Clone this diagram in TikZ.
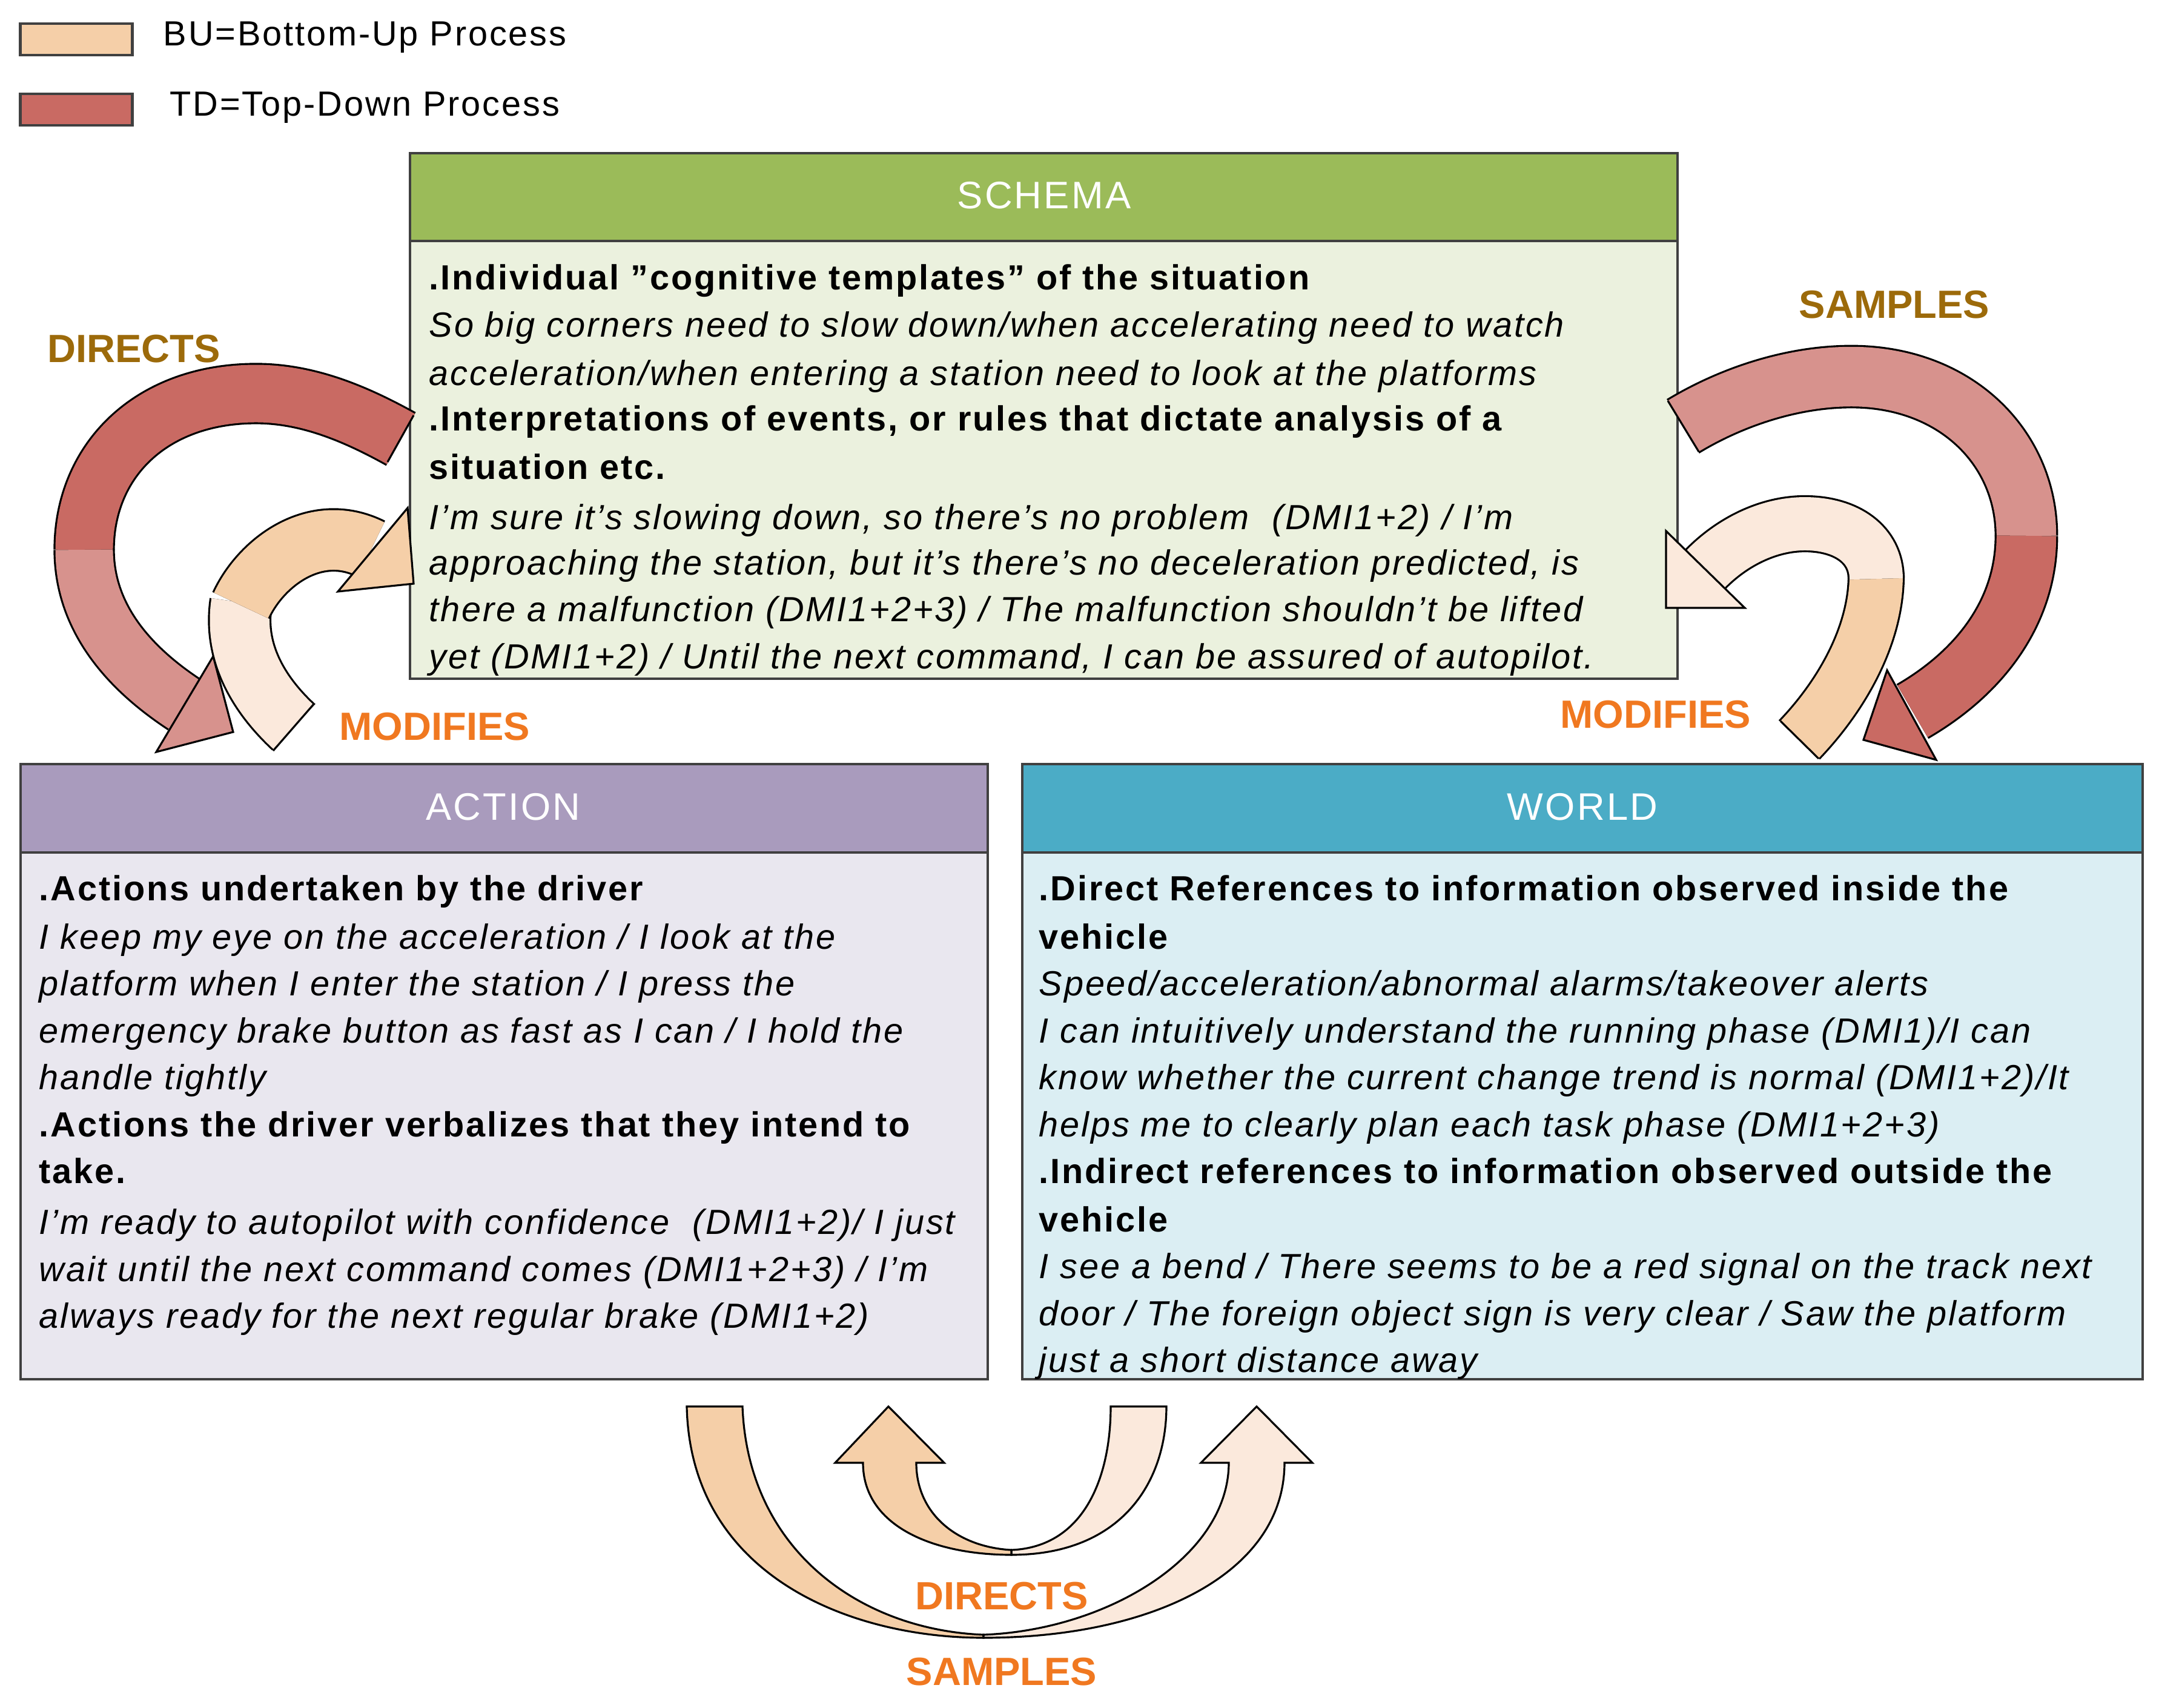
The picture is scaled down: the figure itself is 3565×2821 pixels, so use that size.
\documentclass[tikz,border=0pt]{standalone}
\usepackage{fontspec}
\setmainfont[LetterSpace=5]{Liberation Sans}
\newfontfamily\plainf{Liberation Sans}
\begin{document}
\definecolor{gHead}{HTML}{9BBB59}\definecolor{gBody}{HTML}{EBF1DE}
\definecolor{pHead}{HTML}{A99BBD}\definecolor{pBody}{HTML}{E9E7EF}
\definecolor{bHead}{HTML}{4BACC6}\definecolor{bBody}{HTML}{DBEEF3}
\definecolor{peach}{HTML}{F5CFA8}\definecolor{light}{HTML}{FBE9DC}
\definecolor{redA}{HTML}{C96A63}\definecolor{redB}{HTML}{D7928D}
\definecolor{gold}{HTML}{9C6A0A}\definecolor{orng}{HTML}{F07820}
\definecolor{brd}{HTML}{404040}
\begin{tikzpicture}[x=0.01cm,y=-0.01cm,
  box/.style={draw=brd,line width=1.4pt},
  hdr/.style={text=white,font=\fontsize{18}{22}\selectfont},
  tl/.style={anchor=base west,inner sep=0pt,font=\fontsize{16.4}{20}\selectfont},
  bl/.style={tl,font=\fontsize{16.4}{20}\selectfont\bfseries},
  il/.style={tl,font=\fontsize{16.4}{20}\selectfont\itshape},
  lab/.style={font=\fontsize{18.5}{22}\plainf\bfseries},
  shaft/.style={draw=black,line width=0.9pt,double=#1},
  head/.style={draw=black,line width=0.9pt,fill=#1,line join=miter},
  blk/.style={draw=black,line width=0.9pt,fill=#1}]
\useasboundingbox (0,0) rectangle (3565,2821);
% legend
\node[box,draw=brd,fill=peach,minimum width=185*0.01cm,minimum height=52*0.01cm,inner sep=0pt] (lg1) at (126,65) {};
\node[box,draw=brd,fill=redA,minimum width=185*0.01cm,minimum height=52*0.01cm,inner sep=0pt] (lg2) at (126,181) {};
\node[tl,anchor=west] (lt1) at (269,62) {BU=Bottom-Up Process};
\node[tl,anchor=west] (lt2) at (280,178) {TD=Top-Down Process};
% schema
\fill[gBody] (677,398) rectangle (2770,1121);
\fill[gHead] (677,253) rectangle (2770,398);
\draw[box] (677,253) rectangle (2770,1121);
\draw[box] (677,398) -- (2770,398);
\node[hdr] (sh) at (1724,323) {SCHEMA};
\node[bl] (s1) at (708,478) {.Individual \symbol{34}cognitive templates\symbol{34} of the situation};
\node[il] (s2) at (708,556) {So big corners need to slow down/when accelerating need to watch};
\node[il] (s3) at (708,636) {acceleration/when entering a station need to look at the platforms};
\node[bl] (s4) at (708,711) {.Interpretations of events, or rules that dictate analysis of a};
\node[bl] (s5) at (708,791) {situation etc.};
\node[il] (s6) at (708,874) {I\symbol{39}m sure it\symbol{39}s slowing down, so there\symbol{39}s no problem \ (DMI1+2) / I\symbol{39}m};
\node[il] (s7) at (708,949) {approaching the station, but it\symbol{39}s there\symbol{39}s no deceleration predicted, is};
\node[il] (s8) at (708,1026) {there a malfunction (DMI1+2+3) / The malfunction shouldn\symbol{39}t be lifted};
\node[il] (s9) at (708,1104) {yet (DMI1+2) / Until the next command, I can be assured of autopilot.};
% action
\fill[pBody] (34,1408) rectangle (1631,2278);
\fill[pHead] (34,1262) rectangle (1631,1408);
\draw[box] (34,1262) rectangle (1631,2278);
\draw[box] (34,1408) -- (1631,1408);
\node[hdr] (ah) at (831,1333) {ACTION};
\node[bl] (a1) at (64,1487) {.Actions undertaken by the driver};
\node[il] (a2) at (64,1567) {I keep my eye on the acceleration / I look at the};
\node[il] (a3) at (64,1644) {platform when I enter the station / I press the};
\node[il] (a4) at (64,1722) {emergency brake button as fast as I can / I hold the};
\node[il] (a5) at (64,1799) {handle tightly};
\node[bl] (a6) at (64,1877) {.Actions the driver verbalizes that they intend to};
\node[bl] (a7) at (64,1954) {take.};
\node[il] (a8) at (64,2038) {I\symbol{39}m ready to autopilot with confidence \ (DMI1+2)/ I just};
\node[il] (a9) at (64,2116) {wait until the next command comes (DMI1+2+3) / I\symbol{39}m};
\node[il] (a10) at (64,2193) {always ready for the next regular brake (DMI1+2)};
% world
\fill[bBody] (1688,1408) rectangle (3538,2278);
\fill[bHead] (1688,1262) rectangle (3538,1408);
\draw[box] (1688,1262) rectangle (3538,2278);
\draw[box] (1688,1408) -- (3538,1408);
\node[hdr] (wh) at (2613,1333) {WORLD};
\node[bl] (w1) at (1715,1487) {.Direct References to information observed inside the};
\node[bl] (w2) at (1715,1567) {vehicle};
\node[il] (w3) at (1715,1644) {Speed/acceleration/abnormal alarms/takeover alerts};
\node[il] (w4) at (1715,1722) {I can intuitively understand the running phase (DMI1)/I can};
\node[il] (w5) at (1715,1799) {know whether the current change trend is normal (DMI1+2)/It};
\node[il] (w6) at (1715,1877) {helps me to clearly plan each task phase (DMI1+2+3)};
\node[bl] (w7) at (1715,1954) {.Indirect references to information observed outside the};
\node[bl] (w8) at (1715,2034) {vehicle};
\node[il] (w9) at (1715,2111) {I see a bend / There seems to be a red signal on the track next};
\node[il] (w10) at (1715,2189) {door / The foreign object sign is very clear / Saw the platform};
\node[il] (w11) at (1715,2266) {just a short distance away};
% left red (DIRECTS)
\draw[shaft=redA,double distance=27pt] (662,725) .. controls (590,685) and (510,650) .. (423,650) .. controls (250,650) and (139,760) .. (139,908);
\draw[shaft=redB,double distance=27pt] (139,908) .. controls (139,1010) and (200,1095) .. (305,1164);
\draw[head=redB] (352,1084) -- (385,1209) -- (258,1242) -- cycle;
\draw[black,line width=0.9pt] (640,763) -- (683,686);
% left light (MODIFIES)
\draw[shaft=light,double distance=28pt] (485,1201) .. controls (430,1150) and (385,1080) .. (398,995);
\draw[shaft=peach,double distance=28pt] (398,1000) .. controls (430,930) and (520,860) .. (613,907);
\draw[head=peach] (673,839) -- (683,964) -- (558,977) -- cycle;
\draw[black,line width=0.9pt] (451,1240) -- (518,1163);
% right light (MODIFIES)
\draw[shaft=peach,double distance=25pt] (2971,1222) .. controls (3040,1150) and (3098,1050) .. (3098,950);
\draw[shaft=light,double distance=25pt] (3098,956) .. controls (3098,900) and (3050,865) .. (2980,865) .. controls (2920,865) and (2860,895) .. (2816,940);
\draw[head=light] (2751,877) -- (2751,1004) -- (2881,1004) -- cycle;
\draw[black,line width=0.9pt] (2940,1191) -- (3003,1253);
% right red (SAMPLES)
\draw[shaft=redB,double distance=28pt] (2779,704) .. controls (2860,655) and (2960,622) .. (3057,622) .. controls (3230,622) and (3346,740) .. (3346,885);
\draw[shaft=redA,double distance=28pt] (3346,885) .. controls (3346,1010) and (3270,1110) .. (3158,1175);
\draw[head=redA] (3116,1107) -- (3077,1222) -- (3197,1255) -- cycle;
\draw[black,line width=0.9pt] (2754,662) -- (2805,746);
% bottom outer (SAMPLES)
\draw[blk=peach] (1134,2323) -- (1226,2323) .. controls (1235,2560) and (1420,2692) .. (1624,2700) -- (1624,2705) .. controls (1400,2705) and (1140,2600) .. (1134,2323) -- cycle;
\draw[blk=light] (1624,2705) .. controls (1900,2705) and (2121,2600) .. (2121,2416) -- (2167,2416) -- (2075,2323) -- (1983,2416) -- (2029,2416) .. controls (2029,2570) and (1830,2692) .. (1624,2700) -- cycle;
% bottom inner (DIRECTS)
\draw[blk=light] (1670,2568) .. controls (1850,2568) and (1926,2450) .. (1926,2323) -- (1834,2323) .. controls (1834,2440) and (1790,2555) .. (1670,2560) -- cycle;
\draw[blk=peach] (1670,2568) .. controls (1540,2568) and (1425,2520) .. (1425,2416) -- (1379,2416) -- (1467,2323) -- (1559,2416) -- (1513,2416) .. controls (1513,2500) and (1580,2555) .. (1670,2560) -- cycle;
% labels
\node[lab,text=gold] (l1) at (221,576) {DIRECTS};
\node[lab,text=gold] (l2) at (3128,503) {SAMPLES};
\node[lab,text=orng] (l3) at (718,1200) {MODIFIES};
\node[lab,text=orng] (l4) at (2734,1180) {MODIFIES};
\node[lab,text=orng] (l5) at (1654,2636) {DIRECTS};
\node[lab,text=orng] (l6) at (1654,2761) {SAMPLES};
\end{tikzpicture}
\end{document}
